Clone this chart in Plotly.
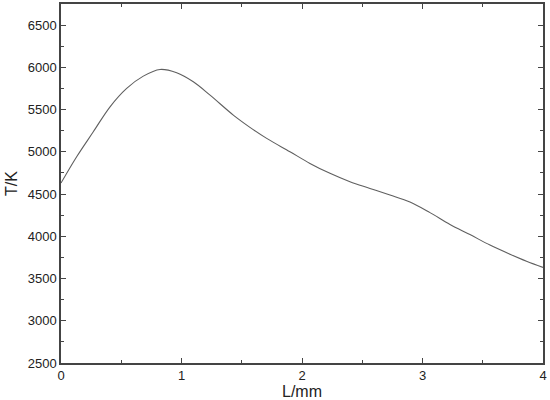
import plotly.graph_objects as go

# Temperature profile along L
L_mm = [0.0, 0.13, 0.268, 0.407, 0.545, 0.683, 0.822, 0.96, 1.098, 1.237,
        1.43, 1.568, 1.707, 1.9, 2.066, 2.232, 2.398, 2.564, 2.73, 2.896,
        3.062, 3.228, 3.394, 3.56, 3.726, 3.863, 4.0]
T_K = [4630, 4942, 5237, 5533, 5751, 5896, 5975, 5936, 5829, 5671,
       5435, 5290, 5159, 5001, 4863, 4745, 4646, 4567, 4488, 4405,
       4280, 4140, 4020, 3896, 3788, 3705, 3632]

x_ticks = [0, 1, 2, 3, 4]
y_ticks = [2500, 3000, 3500, 4000, 4500, 5000, 5500, 6000, 6500]

fig = go.Figure()

fig.add_trace(go.Scatter(
    x=L_mm,
    y=T_K,
    mode="lines",
    line=dict(color="#5f5f5f", width=1.1, shape="spline", smoothing=1.0),
    showlegend=False
))

axis_style = dict(
    showline=True,
    linecolor="#444444",
    linewidth=1.5,
    mirror="ticks",
    ticks="inside",
    ticklen=5,
    tickwidth=1,
    tickcolor="#444444",
    showgrid=False,
    zeroline=False,
    automargin=False,
    tickfont=dict(family="Liberation Sans, Arial", size=13, color="#222222"),
)

fig.update_xaxes(
    range=[0, 4],
    tickvals=x_ticks,
    minor=dict(dtick=0.5, ticks="inside", ticklen=3, tickcolor="#444444"),
    title=dict(text="L/mm", standoff=0,
               font=dict(family="Liberation Sans, Arial", size=16, color="#222222")),
    **axis_style
)
fig.update_yaxes(
    range=[2500, 6750],
    tickvals=y_ticks,
    minor=dict(dtick=250, ticks="inside", ticklen=3, tickcolor="#444444"),
    title=dict(text="T/K", standoff=6,
               font=dict(family="Liberation Sans, Arial", size=16, color="#222222")),
    **axis_style
)

fig.update_layout(
    width=550,
    height=400,
    margin=dict(l=61, r=7, t=4, b=37),
    plot_bgcolor="white",
    paper_bgcolor="white",
)

# page body has a default 8px margin; drop it so the figure sits at 0,0
fig.write_html("out.html", config={"displayModeBar": False},
               post_script="document.body.style.margin='0';")
